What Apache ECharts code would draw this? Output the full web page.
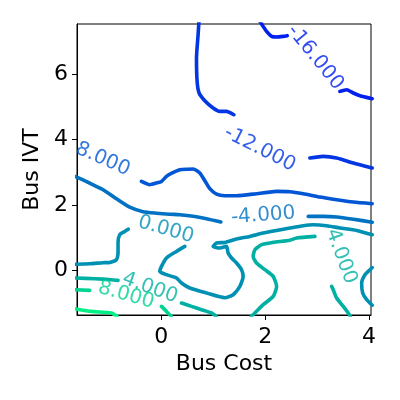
<!DOCTYPE html>
<html>
<head>
<meta charset="utf-8">
<script src="https://cdn.jsdelivr.net/npm/echarts@6/dist/echarts.min.js"></script>
<style>html,body{margin:0;padding:0;background:#fff;}#chart{width:400px;height:400px;}</style>
</head>
<body>
<div id="chart"></div>
<script>
// Axis ranges and ticks
const xRange = [-1.622, 4.037];
const yRange = [-1.359, 7.527];
const xTicks = [0, 2, 4];
const yTicks = [0, 2, 4, 6];

// Contour levels and colours
const levels = [-16, -12, -8, -4, 0, 4, 8, 12];
const levelColors = ['#0020f0', '#0036e4', '#0056d4', '#0072c4', '#0090b4', '#00b0a2', '#00d292', '#00f086'];

// Contour pieces (x = Bus Cost, y = Bus IVT)
const lvlM16a = [[1.90,7.60],[1.931,7.527],[2.027,7.30],[2.123,7.15],[2.220,7.13],[2.347,7.15],[2.424,7.17]];
const lvlM16b = [[3.439,5.469],[3.568,5.521],[3.696,5.420],[3.825,5.337],[4.06,5.246]];
const lvlM12a = [[0.725,7.60],[0.709,7.20],[0.678,6.49],[0.690,5.774],[0.728,5.420],[0.838,5.185],[0.998,4.962],[1.127,4.858],[1.256,4.858],[1.397,4.757]];
const lvlM12b = [[2.861,3.435],[3.118,3.484],[3.376,3.435],[3.696,3.282],[4.06,3.130]];
const lvlM8 = [[-0.382,2.721],[-0.222,2.620],[-0.092,2.672],[0.004,2.721],[0.100,2.873],[0.202,2.971],[0.356,3.078],[0.516,3.093],[0.613,3.099],[0.742,2.977],[0.838,2.742],[0.934,2.498],[1.064,2.330],[1.224,2.284],[1.449,2.284],[1.834,2.345],[2.220,2.415],[2.476,2.406],[2.732,2.345],[3.054,2.244],[3.376,2.162],[3.696,2.092],[4.06,2.040]];
const lvlM4a = [[-1.65,2.87],[-1.378,2.666],[-1.121,2.467],[-0.863,2.192],[-0.607,1.933],[-0.351,1.795],[-0.092,1.750],[0.164,1.719],[0.356,1.704],[0.613,1.658],[0.871,1.582],[1.146,1.481]];
const lvlM4b = [[2.829,1.652],[3.118,1.652],[3.376,1.634],[3.696,1.566],[4.06,1.475]];
const lvl0a = [[-1.65,0.192],[-1.378,0.208],[-1.121,0.238],[-0.992,0.247],[-0.863,0.330],[-0.832,0.534],[-0.832,0.840],[-0.800,1.093],[-0.703,1.194],[-0.636,1.261]];
const lvl0b = [[0.453,0.736],[0.293,0.583],[0.100,0.382],[0.004,0.125],[-0.029,-0.027],[0.100,-0.128],[0.293,-0.229],[0.389,-0.382],[0.549,-0.534],[0.871,-0.687],[1.224,-0.831],[1.383,-0.739],[1.513,-0.485],[1.576,-0.180],[1.545,0.024],[1.449,0.229],[1.353,0.382],[1.287,0.534],[1.256,0.736],[1.127,0.687],[0.998,0.736],[1.064,0.840],[1.224,0.858],[1.449,0.962],[1.705,1.041],[1.961,1.145],[2.220,1.224],[2.476,1.298],[2.732,1.368],[2.925,1.398],[3.183,1.368],[3.439,1.298],[3.761,1.224],[4.06,1.093]];
const lvl0c = [[4.06,0.09],[4.017,0.024],[3.921,-0.128],[3.857,-0.382],[3.877,-0.687],[3.954,-0.892],[4.06,-1.06]];
const lvl4a = [[-1.65,-0.229],[-1.281,-0.250],[-0.960,-0.281],[-0.832,-0.302]];
const lvl4b = [[0.389,-0.992],[0.582,-1.096],[0.775,-1.197],[0.967,-1.298],[1.06,-1.40]];
const lvl4c = [[2.958,1.041],[2.605,0.992],[2.476,0.925],[2.154,0.858],[1.931,0.788],[1.802,0.635],[1.769,0.431],[1.834,0.229],[1.994,0.024],[2.154,-0.180],[2.220,-0.486],[2.154,-0.791],[1.961,-1.044],[1.802,-1.298],[1.73,-1.40]];
const lvl4d = [[3.279,-0.486],[3.310,-0.586],[3.376,-0.840],[3.503,-1.096],[3.599,-1.298],[3.64,-1.40]];
const lvl8a = [[-1.65,-0.586],[-1.378,-0.608]];
const lvl8b = [[0.004,-1.096],[0.100,-1.249],[0.19,-1.40]];
const lvl12 = [[-1.65,-1.175],[-1.345,-1.249],[-0.960,-1.298],[-0.85,-1.40]];

const pieceLevels = [-16, -16, -12, -12, -8, -4, -4, 0, 0, 0, 4, 4, 4, 4, 8, 8, 12];
const pieces = [lvlM16a, lvlM16b, lvlM12a, lvlM12b, lvlM8, lvlM4a, lvlM4b, lvl0a, lvl0b, lvl0c, lvl4a, lvl4b, lvl4c, lvl4d, lvl8a, lvl8b, lvl12];

// Inline contour labels
const labelTexts = ['-16.000', '-12.000', '-8.000', '-4.000', '0.000', '4.000', '4.000', '8.000'];
const labelLevels = [-16, -12, -8, -4, 0, 4, 4, 8];
const labelX = [2.963, 1.898, -1.189, 1.962, 0.090, -0.216, 3.462, -0.678];
const labelY = [6.504, 3.710, 3.441, 1.679, 1.246, -0.535, 0.431, -0.754];
const labelAngles = [-51, -27, -24, 4, -16, -20, -70, -16];

const FONT = 'DejaVu Sans';
const colorOf = lv => levelColors[levels.indexOf(lv)];

const series = [];
pieces.forEach((p, i) => {
  series.push({
    type: 'line', data: p, showSymbol: false, symbol: 'none', smooth: 0.2, clip: true,
    silent: true, animation: false, z: 2,
    lineStyle: { color: colorOf(pieceLevels[i]), width: 3.6, cap: 'round', join: 'round' }
  });
});

labelTexts.forEach((t, i) => {
  const col = colorOf(labelLevels[i]);
  // label on the left edge: its leading minus sign falls outside the axes (clipped in the original)
  const clippedMinus = (labelX[i] < xRange[0] + 0.6) && t.charAt(0) === '-';
  series.push({
    type: 'scatter', symbolSize: 1, silent: true, animation: false, z: 3,
    itemStyle: { color: 'rgba(0,0,0,0)' },
    data: [{ value: [labelX[i], labelY[i]], name: t }],
    label: {
      show: true, position: 'inside', rotate: labelAngles[i],
      color: col, fontSize: 20, fontFamily: FONT,
      formatter: clippedMinus ? ('{h|-}{n|' + t.slice(1) + '}') : t,
      rich: clippedMinus ? {
        h: { color: 'rgba(0,0,0,0)', fontSize: 20, fontFamily: FONT },
        n: { color: col, fontSize: 20, fontFamily: FONT }
      } : undefined
    }
  });
});

const chart = echarts.init(document.getElementById('chart'), null, { renderer: 'canvas' });
chart.setOption({
  animation: false,
  backgroundColor: '#fff',
  grid: { left: 77, top: 24, width: 294, height: 291, show: true, borderColor: '#000', borderWidth: 1, backgroundColor: 'transparent' },
  xAxis: {
    type: 'value', min: xRange[0], max: xRange[1],
    name: 'Bus Cost', nameLocation: 'middle', nameGap: 37,
    nameTextStyle: { fontSize: 22, color: '#000', fontFamily: FONT },
    axisLine: { show: true, onZero: false, lineStyle: { color: '#000', width: 1 } },
    axisTick: { show: true, length: 5, lineStyle: { color: '#000', width: 1 }, customValues: xTicks },
    axisLabel: { fontSize: 22, color: '#000', fontFamily: FONT, margin: 11, customValues: xTicks },
    splitLine: { show: false }
  },
  yAxis: {
    type: 'value', min: yRange[0], max: yRange[1],
    name: 'Bus IVT', nameLocation: 'middle', nameGap: 30, nameRotate: 90,
    nameTextStyle: { fontSize: 22, color: '#000', fontFamily: FONT },
    axisLine: { show: true, onZero: false, lineStyle: { color: '#000', width: 1 } },
    axisTick: { show: true, length: 5, lineStyle: { color: '#000', width: 1 }, customValues: yTicks },
    axisLabel: { fontSize: 22, color: '#000', fontFamily: FONT, margin: 9, customValues: yTicks },
    splitLine: { show: false }
  },
  series: series
});
</script>
</body>
</html>
